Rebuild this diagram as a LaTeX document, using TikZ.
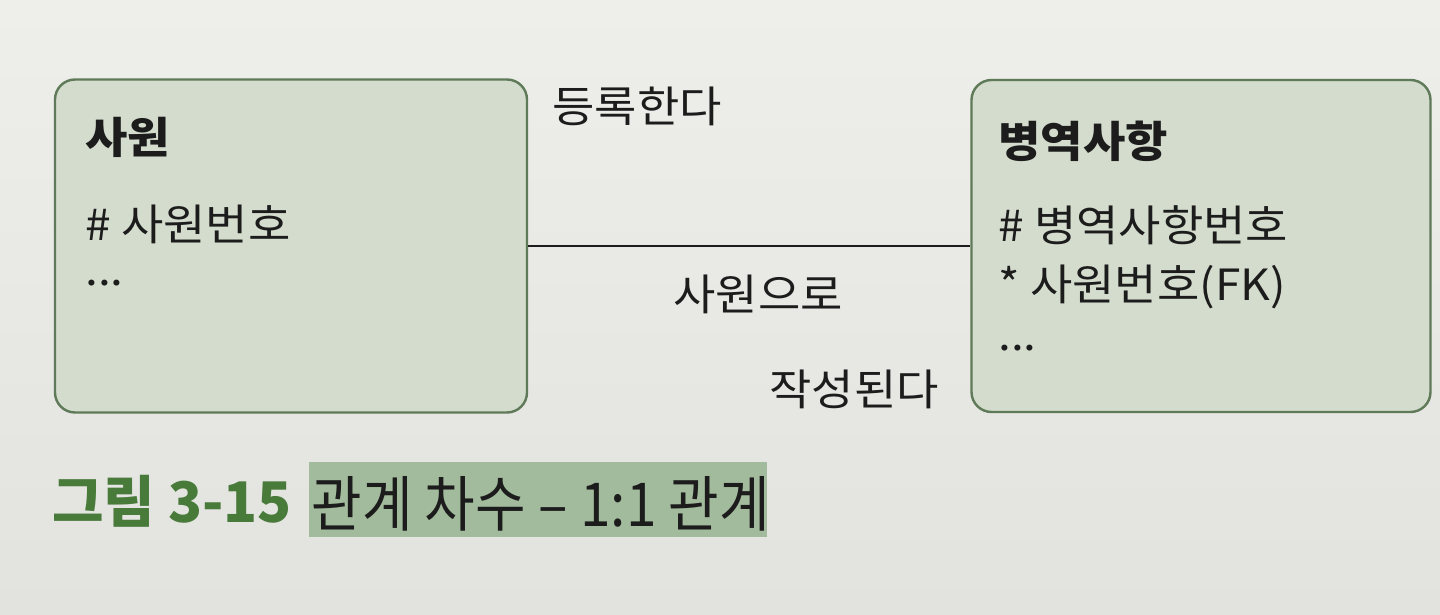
\documentclass[tikz,border=0pt]{standalone}
\usepackage{fontspec}
\usepackage{graphicx}
\setmainfont[FakeStretch=1.07]{Noto Sans CJK KR}
\newfontfamily\capfont{Noto Sans CJK KR}
\definecolor{paperTop}{RGB}{238,238,234}
\definecolor{paperBot}{RGB}{226,226,222}
\definecolor{boxfill}{RGB}{211,220,205}
\definecolor{boxline}{RGB}{95,122,88}
\definecolor{capgreen}{RGB}{72,122,58}
\definecolor{hilite}{RGB}{163,187,157}
\definecolor{ink}{RGB}{28,28,28}
\begin{document}
\begin{tikzpicture}[x=0.5pt,y=-0.5pt,
  entity/.style={draw=boxline, line width=1.2pt, fill=boxfill, rounded corners=10pt, inner sep=0pt},
  txt/.style={anchor=west, inner sep=0pt, text=ink, font=\fontsize{21.5pt}{24pt}\selectfont},
  ttl/.style={txt, font=\fontsize{21.5pt}{24pt}\selectfont\bfseries},
  rel/.style={line width=1.1pt, draw=ink}]
\shade[top color=paperTop, bottom color=paperBot] (0,0) rectangle (1440,615);
\useasboundingbox (0,0) rectangle (1440,615);
% entities
\node[entity, minimum width=236pt, minimum height=166.5pt] (emp) at (291,246) {};
\node[entity, minimum width=229.5pt, minimum height=166pt] (mil) at (1201,246) {};
% relationship line
\draw[rel] (emp.east) -- (mil.west);
% left entity texts
\node[ttl] (empT) at (85,137) {사원};
\node[txt] (empA) at (85,224) {\# 사원번호};
\node[txt] (empB) at (85,283) {...};
% right entity texts
\node[ttl] (milT) at (998,141) {병역사항};
\node[txt] (milA) at (998,225) {\# 병역사항번호};
\node[txt] (milB) at (998,287) {* 사원번호(FK)};
\node[txt] (milC) at (998,348) {...};
% relationship labels
\node[txt] (l1) at (552,106) {등록한다};
\node[txt] (l2) at (673,294) {사원으로};
\node[txt] (l3) at (769,389) {작성된다};
% caption
\fill[hilite] (309,462) rectangle (767,537);
\node[anchor=west, inner sep=0pt, text=capgreen, font=\capfont\fontsize{28pt}{30pt}\selectfont\bfseries] (capA) at (52,501) {그림 3-15};
\node[anchor=west, inner sep=0pt, text=ink, font=\capfont\fontsize{27.5pt}{30pt}\selectfont] (capB) at (311,504) {\scalebox{1}[1.1]{관계 차수 – 1:1 관계}};
\end{tikzpicture}
\end{document}
